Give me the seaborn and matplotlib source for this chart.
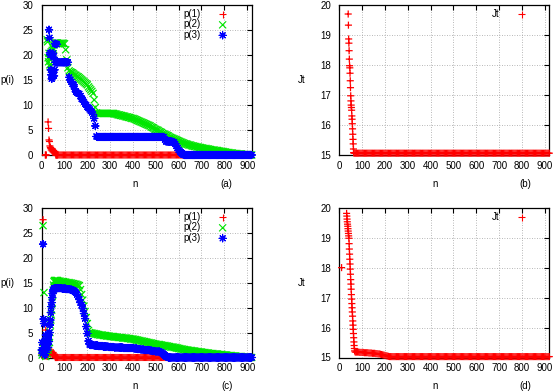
import numpy as np
import pandas as pd
import matplotlib
matplotlib.use("Agg")
import matplotlib.pyplot as plt
import matplotlib.colors as mcolors
import seaborn as sns

sns.set_theme(style="white")
plt.rcParams['font.family'] = ['Liberation Sans', 'DejaVu Sans']
plt.rcParams['text.color'] = 'black'
plt.rcParams['axes.labelcolor'] = 'black'

# ---------------- data ----------------
XTICKS = [0, 100, 200, 300, 400, 500, 600, 700, 800, 900]
YTICKS_P = [0, 5, 10, 15, 20, 25, 30]
YTICKS_J = [15, 16, 17, 18, 19, 20]

N_EARLY = list(range(0, 70, 2))          # n = 0..68
N_LATE = list(range(70, 921, 5))         # n = 70..920

# panel (a)
A_P1_EARLY = [None, None, None, None, None, None, None, None, 0, 0, 0, None, None, None,
              6.6, 5.3, 3.0, 2.7, 1.8, 1.5, 1.3, 1.0, 1.2, 0.8, 1.0, 0.6, 0.9, 0.7, 0.5, 0.7,
              0.4, 0.0, 0.0, 0.0, 0.0]
A_P1_LATE = [0, 0, 0, 0, 0, 0, 0, 0, 0, 0, 0, 0, 0, 0, 0, 0, 0, 0, 0, 0,
             0, 0, 0, 0, 0, 0, 0, 0, 0, 0, 0, 0, 0, 0, 0, 0, 0, 0, 0, 0,
             0, 0, 0, 0, 0, 0, 0, 0, 0, 0, 0, 0, 0, 0, 0, 0, 0, 0, 0, 0,
             0, 0, 0, 0, 0, 0, 0, 0, 0, 0, 0, 0, 0, 0, 0, 0, 0, 0, 0, 0,
             0, 0, 0, 0, 0, 0, 0, 0, 0, 0, 0, 0, 0, 0, 0, 0, 0, 0, 0, 0,
             0, 0, 0, 0, 0, 0, 0, 0, 0, 0, 0, 0, 0, 0, 0, 0, 0, 0, 0, 0,
             0, 0, 0, 0, 0, 0, 0, 0, 0, 0, 0, 0, 0, 0, 0, 0, 0, 0, 0, 0,
             0, 0, 0, 0, 0, 0, 0, 0, 0, 0, 0, 0, 0, 0, 0, 0, 0, 0, 0, 0,
             0, 0, 0, 0, 0, 0, 0, 0, 0, 0, 0]
A_P2_EARLY = [None, None, None, None, None, None, None, None, None, None, None, None,
              23.0, 22.6, 19.4, 18.6, 20.3, 19.2, 18.0, 17.6, 19.8, 20.6, 19.4, 20.9,
              21.4, 20.2, 21.0, 22.0, 22.3, 22.3, 22.3, 22.3, 22.3, 22.3, 22.3]
A_P2_LATE = [22.3, 22.3, 22.3, 22.3, 22.3, 22.3, 22.2, 21.0, 19.0, 17.4, 16.8, 16.6, 16.5, 16.4, 16.2, 16.0, 15.9, 15.7, 15.6, 15.4,
             15.2, 15.0, 14.8, 14.6, 14.4, 14.2, 14.0, 13.6, 13.3, 13.0, 12.7, 12.3, 11.0, 9.5, 8.4, 8.3, 8.3, 8.3, 8.3, 8.3,
             8.3, 8.3, 8.3, 8.3, 8.3, 8.3, 8.3, 8.3, 8.3, 8.3, 8.2, 8.2, 8.1, 8.0, 8.0, 7.9, 7.9, 7.8, 7.8, 7.7,
             7.6, 7.6, 7.5, 7.5, 7.4, 7.3, 7.3, 7.2, 7.1, 7.0, 6.9, 6.8, 6.7, 6.6, 6.5, 6.4, 6.3, 6.2, 6.1, 6.0,
             5.9, 5.8, 5.6, 5.5, 5.4, 5.2, 5.1, 5.0, 4.9, 4.7, 4.6, 4.5, 4.3, 4.2, 4.1, 4.0, 3.9, 3.8, 3.6, 3.5,
             3.4, 3.3, 3.2, 3.1, 3.0, 2.9, 2.8, 2.7, 2.6, 2.5, 2.4, 2.3, 2.2, 2.2, 2.1, 2.0, 2.0, 1.9, 1.8, 1.8,
             1.7, 1.7, 1.6, 1.6, 1.5, 1.5, 1.4, 1.4, 1.3, 1.3, 1.3, 1.2, 1.2, 1.1, 1.1, 1.0, 1.0, 1.0, 0.9, 0.9,
             0.9, 0.8, 0.8, 0.7, 0.7, 0.7, 0.6, 0.6, 0.5, 0.5, 0.5, 0.4, 0.4, 0.4, 0.3, 0.3, 0.3, 0.3, 0.2, 0.2,
             0.2, 0.2, 0.1, 0.1, 0.1, 0.1, 0.1, 0.0, 0.0, 0.0, 0.0]
A_P3_EARLY = [None, None, None, None, None, None, None, None, None, None, None, None, None, None, None, None,
              25.0, 23.4, 20.4, 20.0, 17.0, 16.0, 15.2, 15.5, 16.5, 20.3, 19.5, 15.8, 17.0, 22.2,
              18.5, 22.2, 18.5, 22.1, 18.5]
A_P3_LATE = [18.5, 18.5, 18.5, 18.5, 18.5, 18.5, 18.5, 18.5, 18.5, 18.5, 15.5, 15.0, 14.6, 14.2, 14.0, 13.2, 12.6, 12.4, 12.3, 12.2,
             11.8, 11.2, 11.0, 10.6, 10.2, 10.0, 9.6, 9.4, 9.1, 8.8, 8.5, 8.1, 7.3, 5.8, 3.7, 3.6, 3.6, 3.6, 3.6, 3.6,
             3.6, 3.6, 3.6, 3.6, 3.6, 3.6, 3.6, 3.6, 3.6, 3.6, 3.6, 3.6, 3.6, 3.6, 3.6, 3.6, 3.6, 3.6, 3.6, 3.6,
             3.6, 3.6, 3.6, 3.6, 3.6, 3.6, 3.6, 3.6, 3.6, 3.6, 3.6, 3.6, 3.6, 3.6, 3.6, 3.6, 3.6, 3.6, 3.6, 3.6,
             3.6, 3.6, 3.6, 3.6, 3.6, 3.6, 3.6, 3.6, 3.6, 3.6, 3.6, 3.6, 3.6, 3.6, 3.0, 2.7, 2.7, 2.7, 2.7, 2.7,
             2.7, 2.6, 2.5, 2.2, 1.8, 1.4, 1.0, 0.7, 0.5, 0.3, 0.1, 0, 0, 0, 0, 0, 0, 0, 0, 0,
             0, 0, 0, 0, 0, 0, 0, 0, 0, 0, 0, 0, 0, 0, 0, 0, 0, 0, 0, 0,
             0, 0, 0, 0, 0, 0, 0, 0, 0, 0, 0, 0, 0, 0, 0, 0, 0, 0, 0, 0,
             0, 0, 0, 0, 0, 0, 0, 0, 0, 0, 0]

# panel (c)
C_P1_EARLY = [0.5, 1.5, 2.5, 27.6, 0.8, 3.0, 1.2, 0.3, 2.0, 5.5, 0.6, 0.4, 0.2, 0.5, 0.9, 1.2,
              0.8, 1.4, 1.0, 0.7, 1.3, 0.9, 1.1, 0.6, 0.8, 1.0, 0.5, 0.7, 0.4, 0.3,
              0.0, 0.0, 0.0, 0.0, 0.0]
C_P1_LATE = A_P1_LATE
C_P2_EARLY = [1.0, 0.5, 2.0, 26.4, 1.2, 13.0, 1.5, 3.0, 0.5, 0.2, 1.0, 2.5, 0.8, 3.5, 1.5, 2.0,
              4.0, 3.0, 5.0, 6.5, 7.5, 8.5, 9.5, 11.0, 12.5, 13.5, 14.5, 15.2, 15.4, 15.4,
              15.4, 15.4, 15.4, 15.4, 15.4]
C_P2_LATE = [15.4, 15.3, 15.3, 15.2, 15.2, 15.2, 15.1, 15.1, 15.0, 15.0, 15.0, 14.9, 14.9, 14.8, 14.8, 14.7, 14.7, 14.6, 14.5, 14.4,
             13.6, 12.6, 11.5, 10.3, 9.2, 8.0, 6.8, 5.4, 5.0, 4.9, 4.9, 4.8, 4.8, 4.7, 4.7, 4.6, 4.6, 4.5, 4.5, 4.5,
             4.4, 4.4, 4.4, 4.3, 4.3, 4.3, 4.2, 4.2, 4.2, 4.2, 4.1, 4.1, 4.1, 4.0, 4.0, 4.0, 4.0, 3.9, 3.9, 3.9,
             3.9, 3.8, 3.8, 3.8, 3.7, 3.7, 3.7, 3.6, 3.6, 3.5, 3.5, 3.4, 3.4, 3.3, 3.3, 3.2, 3.2, 3.1, 3.1, 3.0,
             3.0, 2.9, 2.9, 2.8, 2.8, 2.7, 2.7, 2.6, 2.6, 2.6, 2.5, 2.5, 2.4, 2.4, 2.4, 2.3, 2.3, 2.2, 2.2, 2.1,
             2.1, 2.1, 2.0, 2.0, 1.9, 1.9, 1.8, 1.8, 1.7, 1.7, 1.6, 1.6, 1.5, 1.5, 1.5, 1.4, 1.4, 1.4, 1.3, 1.3,
             1.3, 1.2, 1.2, 1.2, 1.1, 1.1, 1.1, 1.0, 1.0, 1.0, 0.9, 0.9, 0.9, 0.8, 0.8, 0.8, 0.8, 0.7, 0.7, 0.7,
             0.7, 0.6, 0.6, 0.6, 0.6, 0.5, 0.5, 0.5, 0.5, 0.4, 0.4, 0.4, 0.4, 0.3, 0.3, 0.3, 0.3, 0.2, 0.2, 0.2,
             0.2, 0.2, 0.1, 0.1, 0.1, 0.1, 0.1, 0.1, 0.0, 0.0, 0.0]
C_P3_EARLY = [1.5, 3.0, 0.8, 22.7, 7.7, 6.8, 2.0, 0.5, 3.5, 4.5, 2.5, 1.5, 3.0, 4.2, 2.0, 4.5,
              3.2, 5.0, 6.5, 7.5, 9.0, 10.2, 11.0, 12.0, 12.8, 13.3, 13.6, 13.8, 13.9, 13.9,
              13.9, 13.9, 13.9, 13.9, 13.9]
C_P3_LATE = [13.9, 13.9, 13.9, 13.9, 13.8, 13.8, 13.8, 13.8, 13.7, 13.7, 13.7, 13.6, 13.6, 13.5, 13.4, 13.2, 13.0, 12.6, 12.2, 11.6,
             11.0, 10.5, 9.8, 8.8, 7.8, 6.2, 4.8, 3.3, 2.6, 2.5, 2.5, 2.5, 2.4, 2.4, 2.4, 2.4, 2.3, 2.3, 2.3, 2.3,
             2.2, 2.2, 2.2, 2.2, 2.2, 2.1, 2.1, 2.1, 2.1, 2.1, 2.0, 2.0, 2.0, 2.0, 2.0, 2.0, 2.0, 2.0, 1.9, 1.9,
             1.9, 1.9, 1.9, 1.9, 1.9, 1.9, 1.9, 1.8, 1.8, 1.8, 1.7, 1.7, 1.7, 1.6, 1.6, 1.6, 1.5, 1.5, 1.5, 1.5,
             1.5, 1.4, 1.4, 1.3, 1.3, 1.3, 1.2, 1.2, 1.2, 1.2, 1.1, 1.0, 0.8, 0.6, 0.4, 0.2, 0.1, 0, 0, 0,
             0, 0, 0, 0, 0, 0, 0, 0, 0, 0, 0, 0, 0, 0, 0, 0, 0, 0, 0, 0,
             0, 0, 0, 0, 0, 0, 0, 0, 0, 0, 0, 0, 0, 0, 0, 0, 0, 0, 0, 0,
             0, 0, 0, 0, 0, 0, 0, 0, 0, 0, 0, 0, 0, 0, 0, 0, 0, 0, 0, 0,
             0, 0, 0, 0, 0, 0, 0, 0, 0, 0, 0]

# panel (b)
B_N = list(range(39, 64)) + list(range(65, 921, 5))
B_JT = [19.69, 19.32, 18.86, 18.72, 18.47, 18.19, 17.97, 17.90, 17.72, 17.47, 17.24, 16.97, 16.80,
        16.66, 16.58, 16.49, 16.30, 16.19, 16.04, 15.87, 15.69, 15.52, 15.37, 15.20, 15.08,
        15.06, 15.06, 15.06, 15.06, 15.06, 15.06, 15.06, 15.06, 15.06, 15.06, 15.06, 15.06, 15.06, 15.06, 15.06, 15.06, 15.06, 15.06, 15.06, 15.06,
        15.06, 15.06, 15.06, 15.06, 15.06, 15.06, 15.06, 15.06, 15.06, 15.06, 15.06, 15.06, 15.06, 15.06, 15.06, 15.06, 15.06, 15.06, 15.06, 15.06,
        15.06, 15.06, 15.06, 15.06, 15.06, 15.06, 15.06, 15.06, 15.06, 15.06, 15.06, 15.06, 15.06, 15.06, 15.06, 15.06, 15.06, 15.06, 15.06, 15.06,
        15.06, 15.06, 15.06, 15.06, 15.06, 15.06, 15.06, 15.06, 15.06, 15.06, 15.06, 15.06, 15.06, 15.06, 15.06, 15.06, 15.06, 15.06, 15.06, 15.06,
        15.06, 15.06, 15.06, 15.06, 15.06, 15.06, 15.06, 15.06, 15.06, 15.06, 15.06, 15.06, 15.06, 15.06, 15.06, 15.06, 15.06, 15.06, 15.06, 15.06,
        15.06, 15.06, 15.06, 15.06, 15.06, 15.06, 15.06, 15.06, 15.06, 15.06, 15.06, 15.06, 15.06, 15.06, 15.06, 15.06, 15.06, 15.06, 15.06, 15.06,
        15.06, 15.06, 15.06, 15.06, 15.06, 15.06, 15.06, 15.06, 15.06, 15.06, 15.06, 15.06, 15.06, 15.06, 15.06, 15.06, 15.06, 15.06, 15.06, 15.06,
        15.06, 15.06, 15.06, 15.06, 15.06, 15.06, 15.06, 15.06, 15.06, 15.06, 15.06, 15.06, 15.06, 15.06, 15.06, 15.06, 15.06, 15.06, 15.06, 15.06,
        15.06, 15.06, 15.06, 15.06, 15.06, 15.06, 15.06, 15.06, 15.06, 15.06, 15.06, 15.06]

# panel (d)
D_N = [10] + list(range(32, 68)) + list(range(70, 921, 5))
D_JT = [18.0,
        19.81, 19.72, 19.62, 19.53, 19.45, 19.38, 19.30, 19.22, 19.14, 19.06, 18.98, 18.80,
        18.62, 18.45, 18.28, 18.12, 17.95, 17.78, 17.60, 17.45, 17.28, 17.10, 16.95, 16.80,
        16.66, 16.52, 16.38, 16.22, 16.08, 15.94, 15.80, 15.66, 15.52, 15.40, 15.30, 15.22,
        15.18, 15.18, 15.18, 15.18, 15.17, 15.17, 15.17, 15.17, 15.16, 15.16, 15.16, 15.16, 15.15, 15.15, 15.15, 15.14, 15.14, 15.14, 15.13, 15.13,
        15.12, 15.12, 15.11, 15.10, 15.09, 15.08, 15.07, 15.06, 15.05, 15.04, 15.03, 15.03, 15.03, 15.03, 15.03, 15.03, 15.03, 15.03, 15.03, 15.03,
        15.03, 15.03, 15.03, 15.03, 15.03, 15.03, 15.03, 15.03, 15.03, 15.03, 15.03, 15.03, 15.03, 15.03, 15.03, 15.03, 15.03, 15.03, 15.03, 15.03,
        15.03, 15.03, 15.03, 15.03, 15.03, 15.03, 15.03, 15.03, 15.03, 15.03, 15.03, 15.03, 15.03, 15.03, 15.03, 15.03, 15.03, 15.03, 15.03, 15.03,
        15.03, 15.03, 15.03, 15.03, 15.03, 15.03, 15.03, 15.03, 15.03, 15.03, 15.03, 15.03, 15.03, 15.03, 15.03, 15.03, 15.03, 15.03, 15.03, 15.03,
        15.03, 15.03, 15.03, 15.03, 15.03, 15.03, 15.03, 15.03, 15.03, 15.03, 15.03, 15.03, 15.03, 15.03, 15.03, 15.03, 15.03, 15.03, 15.03, 15.03,
        15.03, 15.03, 15.03, 15.03, 15.03, 15.03, 15.03, 15.03, 15.03, 15.03, 15.03, 15.03, 15.03, 15.03, 15.03, 15.03, 15.03, 15.03, 15.03, 15.03,
        15.03, 15.03, 15.03, 15.03, 15.03, 15.03, 15.03, 15.03, 15.03, 15.03, 15.03, 15.03, 15.03, 15.03, 15.03, 15.03, 15.03, 15.03, 15.03, 15.03,
        15.03, 15.03, 15.03, 15.03, 15.03, 15.03, 15.03, 15.03, 15.03, 15.03, 15.03]

# ---------------- drawing ----------------
ASTERISK = (8, 2, 0)
SERIES_STYLE = {
    "p(1)": dict(marker="+", color="#ff0000"),
    "p(2)": dict(marker="x", color="#00e600"),
    "p(3)": dict(marker=ASTERISK, color="#0000ff"),
    "Jt": dict(marker="+", color="#ff0000"),
}
MS = 26
MLW = 0.9


def scatter(ax, n, v, label):
    m = min(len(n), len(v))
    df = pd.DataFrame({"n": n[:m], "v": pd.to_numeric(pd.Series(v[:m]), errors="coerce")}).dropna()
    st = SERIES_STYLE[label]
    sns.scatterplot(data=df, x="n", y="v", marker=st["marker"], color=st["color"],
                    s=MS, linewidth=MLW, ax=ax, label=label, clip_on=False, zorder=3)
    coll = ax.collections[-1]
    coll.set_snap(False)
    # per-point colours -> each marker rendered at its exact sub-pixel position
    rgba = np.tile(mcolors.to_rgba(st["color"]), (len(df), 1))
    coll.set_edgecolor(rgba)
    coll.set_facecolor(rgba)


def style(ax, ylim, yticks, ylabel, tag, ylab_x, nlab_x, tag_x, leg_x):
    ax.set_xlim(0, 920)
    ax.set_ylim(*ylim)
    ax.set_xticks(XTICKS)
    ax.set_yticks(yticks)
    ax.tick_params(direction="in", top=True, right=True, length=3.5, width=0.8,
                   labelsize=7, colors="black")
    ax.tick_params(axis="x", pad=4)
    ax.tick_params(axis="y", pad=6)
    ax.grid(True, color="#a0a0a0", linestyle=(0, (1, 2)), linewidth=0.6)
    ax.set_axisbelow(True)
    for s in ax.spines.values():
        s.set_visible(True)
        s.set_color("black")
        s.set_linewidth(0.9)
    ax.set_xlabel("n", fontsize=7)
    ax.xaxis.set_label_coords(nlab_x, -0.19)
    ax.xaxis.label.set_va("center")
    ax.set_ylabel(ylabel, fontsize=7, rotation=0)
    ax.yaxis.set_label_coords(ylab_x, 0.5)
    ax.yaxis.label.set_va("center")
    ax.yaxis.label.set_ha("center")
    ax.text(tag_x, -0.19, tag, transform=ax.transAxes, fontsize=7, ha="center", va="center")
    leg = ax.legend(loc="upper right", bbox_to_anchor=(leg_x, 0.972), markerfirst=False, frameon=False,
                    fontsize=7, handletextpad=1.3, labelspacing=0.05, borderaxespad=0, borderpad=0,
                    scatterpoints=1, handlelength=2.0)
    for h in leg.legend_handles:
        h.set_linewidth(0.8)


fig = plt.figure(figsize=(5.55, 3.92), dpi=100)
W = 210 / 555
ax_a = fig.add_axes([41.7 / 555, 1 - 155 / 392, W, 150.3 / 392])
ax_b = fig.add_axes([339.3 / 555, 1 - 155 / 392, W, 150.3 / 392])
ax_c = fig.add_axes([41.7 / 555, 1 - 357.5 / 392, W, 149.8 / 392])
ax_d = fig.add_axes([339.3 / 555, 1 - 357.5 / 392, W, 149.8 / 392])

N_AC = N_EARLY + N_LATE
scatter(ax_a, N_AC, A_P1_EARLY + A_P1_LATE, "p(1)")
scatter(ax_a, N_AC, A_P2_EARLY + A_P2_LATE, "p(2)")
scatter(ax_a, N_AC, A_P3_EARLY + A_P3_LATE, "p(3)")
style(ax_a, (0, 30), YTICKS_P, "p(i)", "(a)", -0.165, 0.444, 0.881, 0.908)

scatter(ax_b, B_N, B_JT, "Jt")
style(ax_b, (15, 20), YTICKS_J, "Jt", "(b)", -0.179, 0.456, 0.888, 0.915)

scatter(ax_c, N_AC, C_P1_EARLY + C_P1_LATE, "p(1)")
scatter(ax_c, N_AC, C_P2_EARLY + C_P2_LATE, "p(2)")
scatter(ax_c, N_AC, C_P3_EARLY + C_P3_LATE, "p(3)")
style(ax_c, (0, 30), YTICKS_P, "p(i)", "(c)", -0.165, 0.444, 0.881, 0.908)

scatter(ax_d, D_N, D_JT, "Jt")
style(ax_d, (15, 20), YTICKS_J, "Jt", "(d)", -0.179, 0.456, 0.888, 0.915)

fig.savefig("out.png", dpi=100)
